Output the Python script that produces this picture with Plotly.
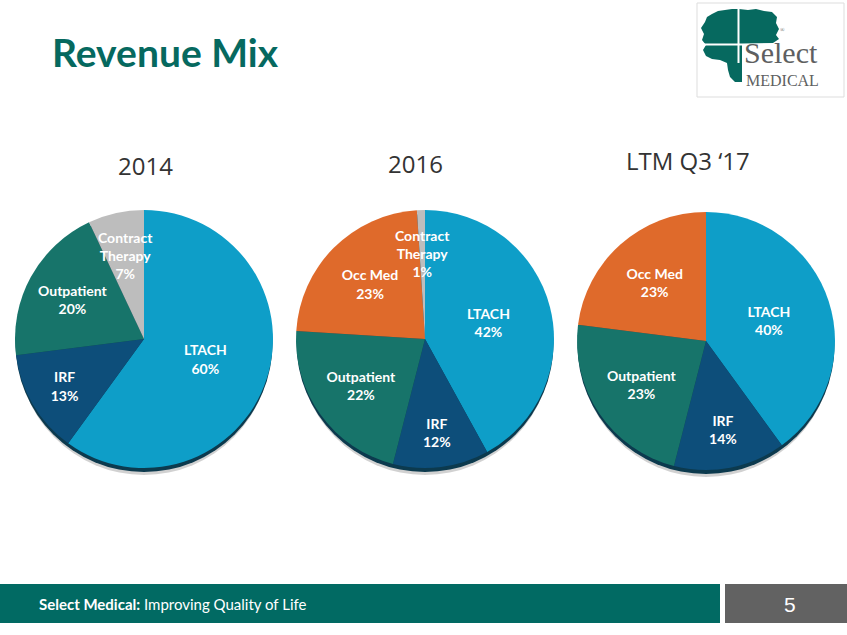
import math
import plotly.graph_objects as go

W, H = 847, 635

# ---- data ----
pie_titles = ["2014", "2016", "LTM Q3 \u201817"]
labels_2014 = ["LTACH", "IRF", "Outpatient", "Contract Therapy"]
values_2014 = [60, 13, 20, 7]
labels_2016 = ["LTACH", "IRF", "Outpatient", "Occ Med", "Contract Therapy"]
values_2016 = [42, 12, 22, 23, 1]
labels_ltm = ["LTACH", "IRF", "Outpatient", "Occ Med"]
values_ltm = [40, 14, 23, 23]

colors = {
    "LTACH": "#0E9EC8",
    "IRF": "#0D4E7A",
    "Outpatient": "#17746A",
    "Contract Therapy": "#BDBDBD",
    "Occ Med": "#DF6A2B",
}

TEAL = "#06695F"
LABEL_FONT = dict(family="Lato", size=14, color="white", weight=700)


def px_x(x):
    return x / W


def px_y(y):
    return 1 - y / H


# pie geometry (pixel centres, radius)
centres = [(144, 339), (425, 339), (706, 341)]
R = 129
title_pos = [(145, 165), (415, 163), (688, 160)]

fig = go.Figure()
shapes = []
annotations = []

for (labels, values), (cx, cy) in zip(
    [(labels_2014, values_2014), (labels_2016, values_2016), (labels_ltm, values_ltm)],
    centres,
):
    small = [l == "Contract Therapy" for l in labels]
    fig.add_trace(
        go.Pie(
            labels=labels,
            values=values,
            sort=False,
            direction="clockwise",
            rotation=0,
            marker=dict(colors=[colors[l] for l in labels], line=dict(width=0)),
            texttemplate="%{label}<br>%{value}%",
            textposition=["none" if s else "inside" for s in small],
            insidetextorientation="horizontal",
            insidetextfont=LABEL_FONT,
            hoverinfo="label+percent",
            showlegend=False,
            domain=dict(
                x=[px_x(cx - R), px_x(cx + R)],
                y=[px_y(cy + R), px_y(cy - R)],
            ),
        )
    )
    # labels of thin slices: placed along the slice's mid-angle
    total = sum(values)
    cum = 0
    for l, v, s in zip(labels, values, small):
        mid = (cum + v / 2) / total * 2 * math.pi
        cum += v
        if not s:
            continue
        rr = 0.66 * R
        lx = cx + rr * math.sin(mid)
        ly = cy - rr * math.cos(mid)
        annotations.append(dict(text="Contract<br>Therapy<br>%d%%" % v, x=px_x(lx),
                                y=px_y(ly), xref="paper", yref="paper",
                                xanchor="center", yanchor="middle", showarrow=False,
                                font=LABEL_FONT))
    # soft shadow + dark rim beneath the pie
    shapes.append(dict(type="circle", xref="paper", yref="paper", layer="below",
                       x0=px_x(cx - R + 2), x1=px_x(cx + R - 2),
                       y0=px_y(cy + R + 7), y1=px_y(cy - R + 7),
                       fillcolor="rgba(0,0,0,0.18)", line=dict(width=0)))
    shapes.append(dict(type="circle", xref="paper", yref="paper", layer="below",
                       x0=px_x(cx - R + 0.5), x1=px_x(cx + R - 0.5),
                       y0=px_y(cy + R + 4), y1=px_y(cy - R + 4),
                       fillcolor="#0C3A4E", line=dict(width=0)))

for t, (tx, ty) in zip(pie_titles, title_pos):
    annotations.append(dict(text=t, x=px_x(tx), y=px_y(ty), xref="paper", yref="paper",
                            xanchor="center", yanchor="middle", showarrow=False,
                            font=dict(family="Open Sans", size=24, color="#333333")))

# title
annotations.append(dict(text="<b>Revenue Mix</b>", x=px_x(50), y=px_y(52), xref="paper",
                        yref="paper", xanchor="left", yanchor="middle", showarrow=False,
                        font=dict(family="Lato", size=39, color=TEAL)))

# footer
shapes.append(dict(type="rect", xref="paper", yref="paper", x0=0, x1=px_x(720),
                   y0=px_y(623), y1=px_y(584), fillcolor="#016A63", line=dict(width=0)))
shapes.append(dict(type="rect", xref="paper", yref="paper", x0=px_x(725), x1=1,
                   y0=px_y(623), y1=px_y(584), fillcolor="#626262", line=dict(width=0)))
annotations.append(dict(text="<b>Select Medical:</b> Improving Quality of Life", x=px_x(37),
                        y=px_y(604), xref="paper", yref="paper", xanchor="left",
                        yanchor="middle", showarrow=False,
                        font=dict(family="Lato", size=15, color="white")))
annotations.append(dict(text="5", x=px_x(790), y=px_y(604), xref="paper", yref="paper",
                        xanchor="center", yanchor="middle", showarrow=False,
                        font=dict(family="Liberation Sans", size=21, color="white")))

# logo box
shapes.append(dict(type="rect", xref="paper", yref="paper", x0=px_x(697), x1=px_x(844),
                   y0=px_y(97), y1=px_y(3), fillcolor="white",
                   line=dict(color="#DDDDDD", width=1)))


def path_from(points):
    return "M " + " L ".join(f"{px_x(x):.5f},{px_y(y):.5f}" for x, y in points) + " Z"


tree = [(712, 14), (718, 11), (725, 10), (732, 9), (739, 9), (748, 10), (756, 9),
        (764, 11), (772, 12), (777, 17), (776, 23), (779, 29), (776, 35), (779, 39),
        (773, 43), (742, 44), (742, 82), (735, 82), (730, 77), (728, 70), (727, 63),
        (720, 60), (712, 59), (706, 56), (703, 50), (706, 45), (702, 40), (704, 34),
        (701, 28), (705, 22), (707, 17)]
shapes.append(dict(type="path", xref="paper", yref="paper", path=path_from(tree),
                   fillcolor="#06695F", line=dict(width=0)))
shapes.append(dict(type="line", xref="paper", yref="paper", x0=px_x(738.5), x1=px_x(738.5),
                   y0=px_y(8), y1=px_y(63), line=dict(color="white", width=2)))
shapes.append(dict(type="line", xref="paper", yref="paper", x0=px_x(700), x1=px_x(780),
                   y0=px_y(44.5), y1=px_y(44.5), line=dict(color="white", width=2)))
annotations.append(dict(text="Select", x=px_x(742), y=px_y(52.5), xref="paper",
                        yref="paper", xanchor="left", yanchor="middle", showarrow=False,
                        font=dict(family="Liberation Serif", size=30, color="#5E5F61")))
annotations.append(dict(text="MEDICAL", x=px_x(744), y=px_y(80), xref="paper",
                        yref="paper", xanchor="left", yanchor="middle", showarrow=False,
                        font=dict(family="Liberation Serif", size=16, color="#5E5F61")))
annotations.append(dict(text="\u00ae", x=px_x(782), y=px_y(30), xref="paper", yref="paper",
                        xanchor="center", yanchor="middle", showarrow=False,
                        font=dict(family="Liberation Serif", size=6, color="#5E5F61")))

fig.update_layout(
    width=W, height=H,
    margin=dict(l=0, r=0, t=0, b=0),
    paper_bgcolor="white", plot_bgcolor="white",
    shapes=shapes, annotations=annotations,
    uniformtext=dict(minsize=14, mode="show"),
)

fig.write_html("out.html", config={"displayModeBar": False},
               post_script="document.body.style.margin='0';")
